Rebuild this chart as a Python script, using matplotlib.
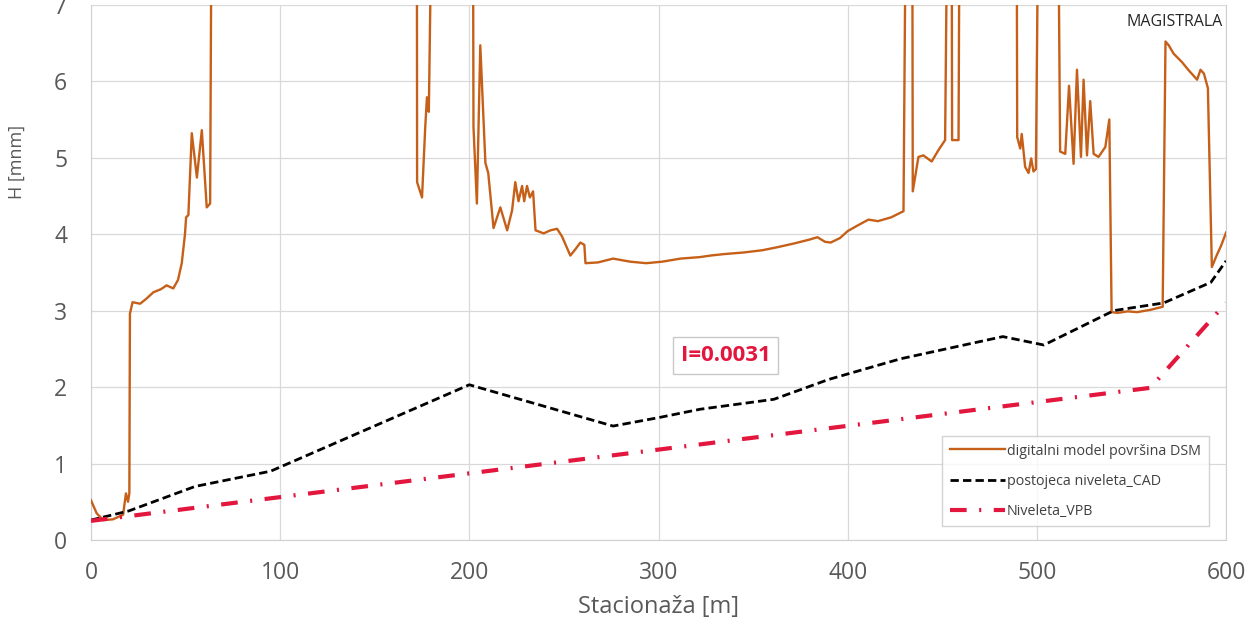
import matplotlib
matplotlib.use("Agg")
import matplotlib.pyplot as plt

plt.rcParams['font.family'] = ['Open Sans', 'DejaVu Sans']

# --- podaci: stacionaža [m] i visine [mnm] ---
TOP = 7.6  # vrijednosti iznad ruba grafa (odsječene)

dsm_x = [0, 3, 6.5, 11.6, 17, 18.5, 19.6, 20.3, 20.6, 22, 26, 29.5, 33, 37, 40, 43.5, 46,
         48, 49.7, 50.3, 51.5, 53.3, 56, 58.6, 61.2, 63, 63.6,
         172.3, 172.4, 175, 176.7, 177.6, 178.6, 179.7,
         202, 202.2, 204, 205.8, 208.5, 210, 212.8, 216.4, 220, 222.6, 224.3, 226, 227.9,
         229, 230.5, 232, 233.7, 235, 239.3, 242.9, 246.4, 249, 253.4, 256, 258.7, 260.8,
         261.4, 268, 276, 285, 293.5, 302, 311.6, 322, 327.5, 335, 345, 355, 363, 372,
         380, 384, 388, 391, 396, 400, 405, 411, 416, 423, 429.5, 430.5,
         434.2, 434.4, 437.4, 440, 444.4, 448, 451.5, 452.4,
         455, 455.2, 458.6, 459,
         489.4, 489.6, 491.2, 492, 493.8, 495.6, 497, 498.2, 499.5, 500.5,
         511.5, 512.3, 515, 517, 519.4, 521.2, 523.3, 524.7, 526.5, 528.2, 530, 532.6,
         536.2, 538.3, 539.5, 542.7, 548, 553, 560, 566.5, 568, 569.7, 572.3, 576.7, 580,
         584.7, 586.5, 588.3, 590.4, 592.5, 595, 597.4, 600]
dsm_y = [0.52, 0.35, 0.26, 0.27, 0.33, 0.61, 0.50, 0.61, 2.96, 3.11, 3.09, 3.16, 3.24, 3.28, 3.33, 3.29, 3.40,
         3.62, 4.00, 4.22, 4.25, 5.32, 4.74, 5.36, 4.35, 4.40, TOP,
         TOP, 4.68, 4.48, 5.40, 5.79, 5.60, TOP,
         TOP, 5.40, 4.40, 6.47, 4.93, 4.80, 4.08, 4.35, 4.05, 4.31, 4.68, 4.43, 4.63,
         4.43, 4.63, 4.48, 4.56, 4.05, 4.01, 4.05, 4.07, 3.97, 3.72, 3.80, 3.89, 3.86,
         3.62, 3.63, 3.68, 3.64, 3.62, 3.64, 3.68, 3.70, 3.72, 3.74, 3.76, 3.79, 3.83, 3.88,
         3.93, 3.96, 3.90, 3.89, 3.95, 4.04, 4.11, 4.19, 4.17, 4.22, 4.30, TOP,
         TOP, 4.56, 5.01, 5.03, 4.95, 5.10, 5.23, TOP,
         TOP, 5.23, 5.23, TOP,
         TOP, 5.27, 5.12, 5.31, 4.88, 4.80, 4.99, 4.82, 4.85, TOP,
         TOP, 5.08, 5.05, 5.94, 4.92, 6.15, 5.01, 6.02, 5.03, 5.74, 5.05, 5.01,
         5.14, 5.50, 2.98, 2.97, 2.99, 2.98, 3.01, 3.05, 6.52, 6.47, 6.36, 6.25, 6.15,
         6.02, 6.15, 6.10, 5.91, 3.57, 3.72, 3.85, 4.02]

cad_x = [0, 20, 55, 95, 200, 276, 300, 322, 361, 390, 428, 482, 503.7, 540.7, 567, 592, 600]
cad_y = [0.26, 0.38, 0.70, 0.90, 2.03, 1.49, 1.60, 1.71, 1.84, 2.10, 2.37, 2.66, 2.55, 3.00, 3.10, 3.37, 3.65]

vpb_x = [0, 560, 600]
vpb_y = [0.25, 1.99, 3.10]

nagib = "I=0.0031"

GRAY = '#595959'

fig = plt.figure(figsize=(12.58, 6.26), dpi=100)
ax = fig.add_axes([0.0723, 0.1374, 0.9023, 0.855])

ax.plot(dsm_x, dsm_y, color='#C65F18', lw=1.7, label='digitalni model površina DSM', zorder=3)
ax.plot(cad_x, cad_y, color='black', lw=2.0, linestyle=(0, (3, 1.5)),
        label='postojeca niveleta_CAD', zorder=4)
ax.plot(vpb_x, vpb_y, color='#E3173E', lw=3.0, linestyle=(0, (4, 3, 0.5, 3)),
        label='Niveleta_VPB', zorder=5)

ax.set_xlim(0, 600)
ax.set_ylim(0, 7)
ax.set_xticks(range(0, 601, 100))
ax.set_yticks(range(0, 8))
ax.grid(True, color='#D9D9D9', lw=0.9)
ax.set_axisbelow(True)
for side in ['left', 'bottom', 'right']:
    ax.spines[side].set_color('#D0D0D0')
ax.spines['top'].set_visible(False)

ax.tick_params(length=0, labelsize=16.5, labelcolor=GRAY)
ax.tick_params(axis='x', pad=15)
ax.tick_params(axis='y', pad=17)

ax.set_xlabel('Stacionaža [m]', fontsize=17, color=GRAY, labelpad=7)
ax.set_ylabel('H [mnm]', fontsize=13, color=GRAY)
ax.yaxis.set_label_coords(-0.057, 0.706)

ax.text(0.9975, 0.968, 'MAGISTRALA', transform=ax.transAxes, ha='right', va='center',
        fontsize=11.5, color='#262626')

ax.text(335.5, 2.41, nagib, ha='center', va='center', fontsize=16, fontweight='bold',
        color='#E3173E', zorder=6,
        bbox=dict(boxstyle='square,pad=0.35', fc='white', ec='#C8C8C8', lw=1))

leg = ax.legend(loc='lower right', bbox_to_anchor=(0.991, 0.012), fontsize=10.3,
                frameon=True, fancybox=False, edgecolor='#C8C8C8', handlelength=3.8,
                handletextpad=0.15, labelspacing=1.05, borderpad=0.55, labelcolor='#404040')
leg.get_frame().set_linewidth(1.0)

fig.savefig('out.png', dpi=100)
